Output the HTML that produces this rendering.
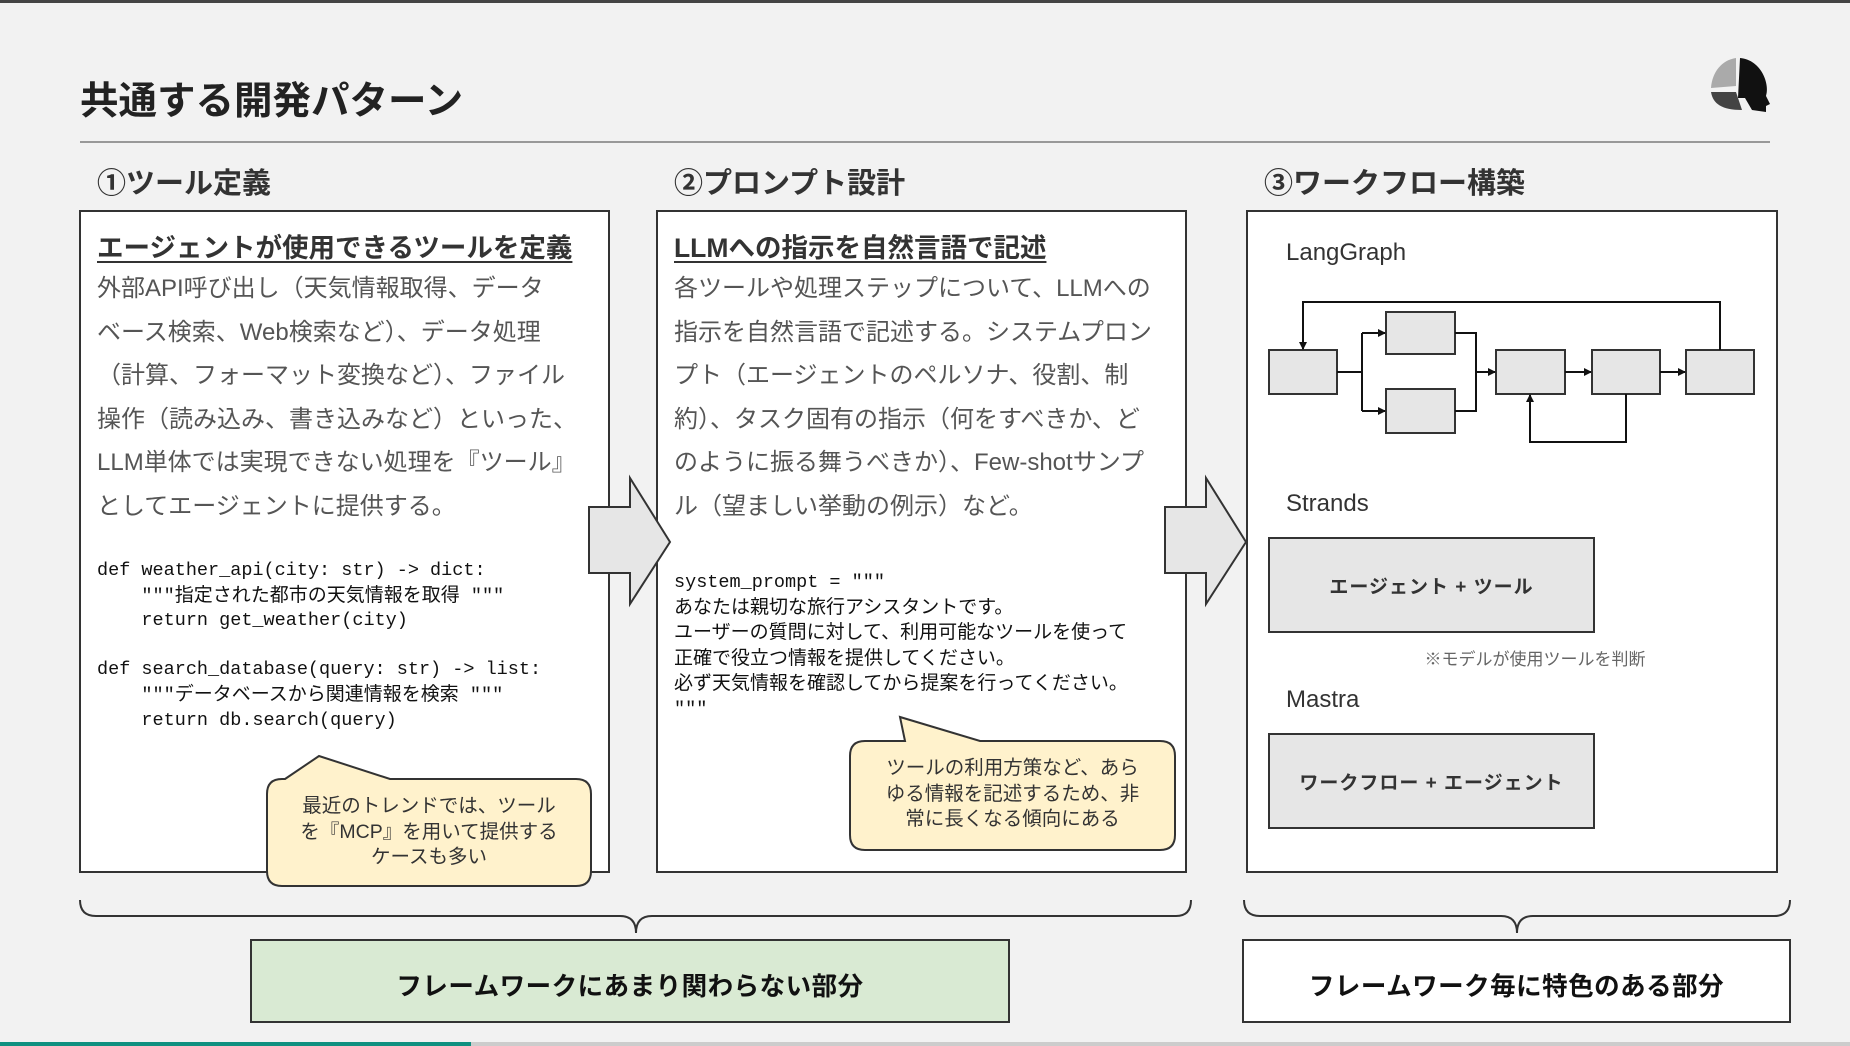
<!DOCTYPE html>
<html><head><meta charset="utf-8"><style>
*{margin:0;padding:0;box-sizing:border-box}
body{width:1850px;height:1046px;background:#f2f2f2;position:relative;overflow:hidden;font-family:"Liberation Sans","Noto Sans CJK JP",sans-serif;color:#333}
.a{position:absolute;white-space:nowrap}
.h{font-size:29px;font-weight:bold;color:#333}
.u{font-size:26.5px;font-weight:bold;color:#333;text-decoration:underline;text-underline-offset:4px}
.body{font-size:24px;color:#555;line-height:43.5px}
.code{font-family:"Liberation Mono","Noto Sans CJK JP",monospace;font-size:18.5px;color:#111;line-height:24.6px;white-space:pre}
.cj{font-family:"Liberation Sans","Noto Sans CJK JP",sans-serif;font-size:19px}
.call{font-size:19.5px;color:#333;text-align:center;line-height:25.5px}
.fw{font-size:24px;color:#333}
.lbl{font-size:19px;font-weight:bold;color:#333;text-align:center;letter-spacing:1px}
.big{font-size:25.5px;font-weight:bold;color:#111;text-align:center;letter-spacing:0.5px}
</style></head><body>
<div class="a" style="left:0;top:0;width:1850px;height:3px;background:#444"></div>
<div class="a" style="left:0;top:1042px;width:1850px;height:4px;background:#ccc"></div>
<div class="a" style="left:0;top:1042px;width:471px;height:4px;background:#0f9080"></div>

<svg class="a" style="left:0;top:0" width="1850" height="1046">
<line x1="80" y1="142" x2="1770" y2="142" stroke="#999" stroke-width="2"/>
<path d="M1740 58 C1762 60 1770 85 1766 96 L1770 104 L1766 106 L1766 112 L1752 110 L1745 98 L1738 98 Z" fill="#111"/>
<path d="M1736 58 C1722 60 1712 72 1711 88 L1736 86 Z" fill="#aaa"/>
<path d="M1711 92 C1713 104 1722 110 1742 110 L1736 92 Z" fill="#444"/>
<rect x="80" y="211" width="529" height="661" fill="#fff" stroke="#333" stroke-width="2"/>
<rect x="657" y="211" width="529" height="661" fill="#fff" stroke="#333" stroke-width="2"/>
<rect x="1247" y="211" width="530" height="661" fill="#fff" stroke="#333" stroke-width="2"/>
<path d="M589 507 L630 507 L630 478 L670 542 L630 604 L630 573 L589 573 Z" fill="#e6e6e6" stroke="#333" stroke-width="2"/>
<path d="M1165 507 L1206 507 L1206 478 L1246 542 L1206 604 L1206 573 L1165 573 Z" fill="#e6e6e6" stroke="#333" stroke-width="2"/>
<path d="M285 779 L319 756 L390 779 L576 779 Q591 779 591 794 L591 871 Q591 886 576 886 L282 886 Q267 886 267 871 L267 794 Q267 779 282 779 Z" fill="#fff2cc" stroke="#333" stroke-width="2"/>
<path d="M905 741 L900 717 L980 741 L1160 741 Q1175 741 1175 756 L1175 835 Q1175 850 1160 850 L865 850 Q850 850 850 835 L850 756 Q850 741 865 741 Z" fill="#fff2cc" stroke="#333" stroke-width="2"/>
<defs><marker id="m" markerWidth="8" markerHeight="8" refX="7" refY="4" orient="auto" markerUnits="userSpaceOnUse"><path d="M0 0 L8 4 L0 8 Z" fill="#111"/></marker></defs>
<g fill="#e6e6e6" stroke="#333" stroke-width="2">
<rect x="1269" y="350" width="68" height="44"/><rect x="1386" y="312" width="69" height="42"/><rect x="1386" y="389" width="69" height="44"/>
<rect x="1496" y="350" width="69" height="44"/><rect x="1592" y="350" width="68" height="44"/><rect x="1686" y="350" width="68" height="44"/>
</g>
<g fill="none" stroke="#111" stroke-width="2">
<polyline points="1337,372 1362,372"/><polyline points="1362,333 1362,411"/>
<polyline points="1362,333 1385,333" marker-end="url(#m)"/><polyline points="1362,411 1385,411" marker-end="url(#m)"/>
<polyline points="1455,333 1476,333 1476,411 1455,411"/><polyline points="1476,372 1495,372" marker-end="url(#m)"/>
<polyline points="1565,372 1591,372" marker-end="url(#m)"/><polyline points="1660,372 1685,372" marker-end="url(#m)"/>
<polyline points="1720,350 1720,302 1303,302 1303,349" marker-end="url(#m)"/>
<polyline points="1626,394 1626,442 1530,442 1530,395" marker-end="url(#m)"/>
</g>
<rect x="1269" y="538" width="325" height="94" fill="#e6e6e6" stroke="#333" stroke-width="2"/>
<rect x="1269" y="734" width="325" height="94" fill="#e6e6e6" stroke="#333" stroke-width="2"/>
<path d="M80 900 Q80 916 96 916 L620 916 Q636 916 636 933 Q636 916 652 916 L1176 916 Q1191 916 1191 900" fill="none" stroke="#333" stroke-width="2"/>
<path d="M1244 900 Q1244 916 1260 916 L1501 916 Q1517 916 1517 933 Q1517 916 1533 916 L1774 916 Q1790 916 1790 900" fill="none" stroke="#333" stroke-width="2"/>
<rect x="251" y="940" width="758" height="82" fill="#d9ead3" stroke="#333" stroke-width="2"/>
<rect x="1243" y="940" width="547" height="82" fill="#fff" stroke="#333" stroke-width="2"/>
</svg>

<div class="a" style="left:80px;top:70px;font-size:38.5px;font-weight:bold;color:#222">共通する開発パターン</div>
<div class="a h" style="left:97px;top:160px">①ツール定義</div>
<div class="a h" style="left:674px;top:160px">②プロンプト設計</div>
<div class="a h" style="left:1264px;top:160px">③ワークフロー構築</div>

<div class="a u" style="left:97px;top:226px">エージェントが使用できるツールを定義</div>
<div class="a body" style="left:97px;top:267px">外部API呼び出し（天気情報取得、データ<br>ベース検索、Web検索など）、データ処理<br>（計算、フォーマット変換など）、ファイル<br>操作（読み込み、書き込みなど）といった、<br>LLM単体では実現できない処理を『ツール』<br>としてエージェントに提供する。</div>
<div class="a code" style="left:97px;top:559px">def weather_api(city: str) -&gt; dict:
    """<span class="cj">指定された都市の天気情報を取得</span> """
    return get_weather(city)

def search_database(query: str) -&gt; list:
    """<span class="cj">データベースから関連情報を検索</span> """
    return db.search(query)</div>
<div class="a call" style="left:267px;top:794px;width:324px">最近のトレンドでは、ツール<br>を『MCP』を用いて提供する<br>ケースも多い</div>

<div class="a u" style="left:674px;top:226px">LLMへの指示を自然言語で記述</div>
<div class="a body" style="left:674px;top:267px">各ツールや処理ステップについて、LLMへの<br>指示を自然言語で記述する。システムプロン<br>プト（エージェントのペルソナ、役割、制<br>約）、タスク固有の指示（何をすべきか、ど<br>のように振る舞うべきか）、Few-shotサンプ<br>ル（望ましい挙動の例示）など。</div>
<div class="a code" style="left:674px;top:571px">system_prompt = """
<span class="cj">あなたは親切な旅行アシスタントです。</span>
<span class="cj">ユーザーの質問に対して、利用可能なツールを使って</span>
<span class="cj">正確で役立つ情報を提供してください。</span>
<span class="cj">必ず天気情報を確認してから提案を行ってください。</span>
"""</div>
<div class="a call" style="left:850px;top:756px;width:325px">ツールの利用方策など、あら<br>ゆる情報を記述するため、非<br>常に長くなる傾向にある</div>

<div class="a fw" style="left:1286px;top:239px">LangGraph</div>
<div class="a fw" style="left:1286px;top:490px">Strands</div>
<div class="a lbl" style="left:1269px;top:572px;width:325px">エージェント + ツール</div>
<div class="a" style="left:1380px;top:645px;width:310px;text-align:center;font-size:17px;color:#666">※モデルが使用ツールを判断</div>
<div class="a fw" style="left:1286px;top:686px">Mastra</div>
<div class="a lbl" style="left:1269px;top:768px;width:325px">ワークフロー + エージェント</div>

<div class="a big" style="left:251px;top:966px;width:758px">フレームワークにあまり関わらない部分</div>
<div class="a big" style="left:1243px;top:966px;width:547px">フレームワーク毎に特色のある部分</div>
</body></html>
